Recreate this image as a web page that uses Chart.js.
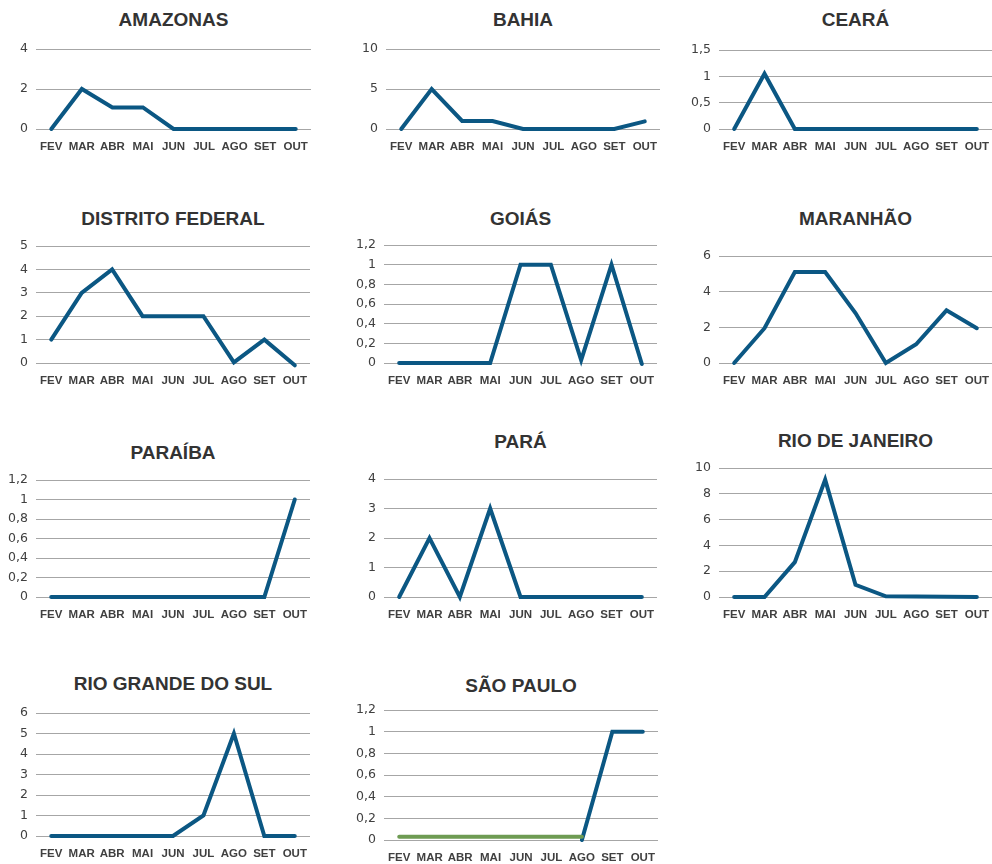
<!DOCTYPE html>
<html lang="pt-BR">
<head>
  <meta charset="UTF-8">
  <title>Casos por estado</title>
  <script src="https://cdn.jsdelivr.net/npm/chart.js"></script>
  <style>
    body { margin: 0; background: #fff; width: 992px; height: 864px; overflow: hidden; position: relative; }
    .panel { position: absolute; }
    .title {
      position: absolute;
      font: bold 19px "Liberation Sans", Arial, sans-serif;
      color: #333;
      text-align: center;
      line-height: 20px;
      white-space: nowrap;
    }
  </style>
</head>
<body>
  <script>
    // Data
    const months = ['FEV', 'MAR', 'ABR', 'MAI', 'JUN', 'JUL', 'AGO', 'SET', 'OUT'];

    const amazonas = [0, 2, 1.08, 1.08, 0, 0, 0, 0, 0];
    const bahia = [0, 5, 1, 1, 0, 0, 0, 0, 0.95];
    const ceara = [0, 1.05, 0, 0, 0, 0, 0, 0, 0];
    const distritoFederal = [1, 3, 4, 2, 2, 2, 0.03, 1, -0.1];
    const goias = [0, 0, 0, 0, 1, 1, 0.03, 1, -0.01];
    const maranhao = [0, 1.95, 5.1, 5.1, 2.8, 0, 1.05, 2.95, 1.95];
    const paraiba = [0, 0, 0, 0, 0, 0, 0, 0, 1];
    const para = [0, 2, 0, 3, 0, 0, 0, 0, 0];
    const rioDeJaneiro = [0, 0, 2.7, 9.1, 0.95, 0.05, 0.04, 0.02, 0];
    const rioGrandeDoSul = [0, 0, 0, 0, 0, 1, 5, 0, 0];
    const saoPauloBase = [0.03, 0.03, 0.03, 0.03, 0.03, 0.03, 0.03, null, null];
    const saoPaulo = [null, null, null, null, null, null, 0, 1, 1];

    // y axis ticks per chart
    const yMax = [4, 10, 1.5, 5, 1.2, 6, 1.2, 4, 10, 6, 1.2];
    const yStep = [2, 5, 0.5, 1, 0.2, 2, 0.2, 1, 2, 1, 0.2];

    const BLUE = '#0b5783';
    const GREEN = '#6e9b53';

    function line(data, color) {
      return {
        data: data,
        borderColor: color,
        borderWidth: 4,
        pointRadius: 0,
        tension: 0,
        borderCapStyle: 'round',
        clip: false,
        spanGaps: false
      };
    }

    // plot area: [left, right, top, bottom], title center y
    const panels = [
      { title: 'AMAZONAS', area: [36, 311, 49, 129], ty: 20, sets: [line(amazonas, BLUE)] },
      { title: 'BAHIA', area: [386, 660, 49, 129], ty: 20, sets: [line(bahia, BLUE)] },
      { title: 'CEARÁ', area: [719, 992, 50, 129], ty: 20, sets: [line(ceara, BLUE)] },
      { title: 'DISTRITO FEDERAL', area: [36, 310, 246, 363], ty: 219, sets: [line(distritoFederal, BLUE)] },
      { title: 'GOIÁS', area: [384, 657, 245, 363], ty: 219, sets: [line(goias, BLUE)] },
      { title: 'MARANHÃO', area: [719, 992, 256, 363], ty: 219, sets: [line(maranhao, BLUE)] },
      { title: 'PARAÍBA', area: [36, 310, 480, 597], ty: 453, sets: [line(paraiba, BLUE)] },
      { title: 'PARÁ', area: [384, 657, 479, 597], ty: 442, sets: [line(para, BLUE)] },
      { title: 'RIO DE JANEIRO', area: [719, 992, 468, 597], ty: 441, sets: [line(rioDeJaneiro, BLUE)] },
      { title: 'RIO GRANDE DO SUL', area: [36, 310, 713, 836], ty: 684, sets: [line(rioGrandeDoSul, BLUE)] },
      { title: 'SÃO PAULO', area: [384, 658, 710, 840], ty: 686, sets: [line(saoPauloBase, GREEN), line(saoPaulo, BLUE)] }
    ];

    const Y_W = 36;   // y axis width
    const X_H = 28;   // x axis height
    const PAD_TOP = 10;

    function fmt(v) {
      return String(Math.round(v * 10) / 10).replace('.', ',');
    }

    // keep the plot area exactly where we put it
    function noPadding(s) {
      s.paddingTop = 0;
      s.paddingBottom = 0;
      s.paddingLeft = 0;
      s.paddingRight = 0;
    }

    panels.forEach((p, i) => {
      const [l, r, t, b] = p.area;

      // title
      const h = document.createElement('div');
      h.className = 'title';
      h.textContent = p.title;
      h.style.left = l + 'px';
      h.style.width = (r - l) + 'px';
      h.style.top = (p.ty - 10) + 'px';
      document.body.appendChild(h);

      // chart
      const box = document.createElement('div');
      box.className = 'panel';
      const left = l - Y_W;
      box.style.left = left + 'px';
      box.style.top = (t - PAD_TOP) + 'px';
      box.style.width = (r - left) + 'px';
      box.style.height = (b - t + PAD_TOP + X_H) + 'px';
      const canvas = document.createElement('canvas');
      box.appendChild(canvas);
      document.body.appendChild(box);

      new Chart(canvas.getContext('2d'), {
        type: 'line',
        data: { labels: months, datasets: p.sets },
        options: {
          responsive: true,
          maintainAspectRatio: false,
          animation: false,
          layout: { padding: { top: PAD_TOP, left: 0, right: 0, bottom: 0 } },
          plugins: { legend: { display: false }, tooltip: { enabled: false } },
          scales: {
            x: {
              offset: true,
              grid: { display: false, drawTicks: false },
              border: { display: false },
              ticks: {
                padding: 11,
                color: '#404040',
                maxRotation: 0,
                autoSkip: false,
                font: { family: '"Liberation Sans", Arial, sans-serif', size: 11.5, weight: 'bold' }
              },
              afterFit: s => { s.height = X_H; noPadding(s); }
            },
            y: {
              min: 0,
              max: yMax[i],
              grid: { color: '#a6a6a6', lineWidth: 1, drawTicks: false },
              border: { display: false },
              ticks: {
                stepSize: yStep[i],
                padding: 8,
                color: '#404040',
                font: { family: '"DejaVu Sans", sans-serif', size: 12.5 },
                callback: v => fmt(v)
              },
              afterFit: s => { s.width = Y_W; noPadding(s); }
            }
          }
        }
      });
    });
  </script>
</body>
</html>
